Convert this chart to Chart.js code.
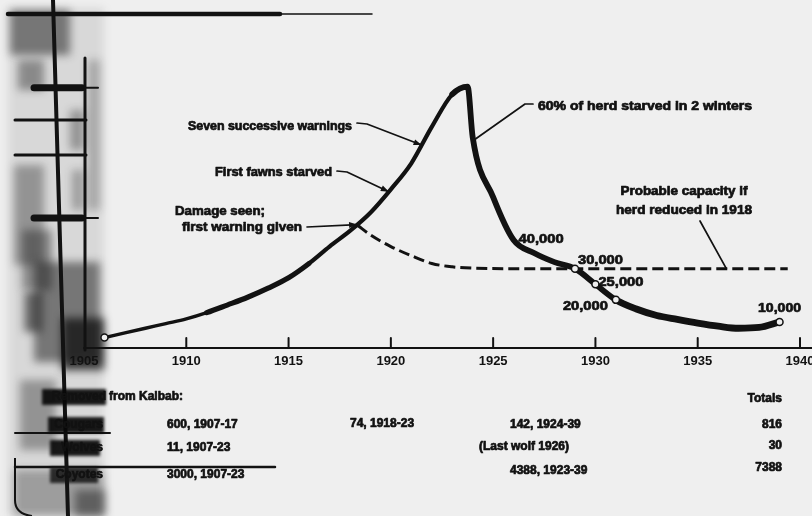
<!DOCTYPE html>
<html>
<head>
<meta charset="utf-8">
<script src="https://cdn.jsdelivr.net/npm/chart.js@4/dist/chart.umd.min.js"></script>
<style>
  html, body { margin: 0; padding: 0; background: #efefef; }
  #c { display: block; }
</style>
</head>
<body>
<canvas id="c" width="812" height="516"></canvas>
<script>
// ---------------- DATA ----------------
const years = [1906, 1907, 1908, 1909, 1910, 1911, 1912, 1913, 1914, 1915, 1916, 1917, 1918, 1919, 1920, 1921, 1922, 1923, 1923.75, 1924, 1925, 1926, 1927, 1928, 1929, 1930, 1931, 1932, 1933, 1934, 1935, 1936, 1937, 1938, 1939];
const population = [4000, 5800, 7600, 9400, 11200, 13600, 16500, 19500, 23000, 27000, 32500, 39000, 45000, 52000, 61000, 71000, 85000, 97500, 100500, 81000, 58000, 41500, 36500, 33000, 30500, 24500, 18500, 15000, 12500, 11000, 9600, 8400, 7600, 7900, 10000];

const capacityYears = [1918.4, 1919, 1920, 1921, 1922, 1923, 1924, 1926, 1939.4];
const capacityValues = [47000, 43500, 39000, 35500, 32500, 31200, 30700, 30500, 30500];

const markerYears = [1906, 1929, 1930, 1931, 1939];
const markerValues = [4000, 30500, 24500, 18500, 10000];
const markerLabels = ['', '30,000', '25,000', '20,000', '10,000'];
const calloutYear = 1926;
const calloutLabel = '40,000';

const xTickYears = [1905, 1910, 1915, 1920, 1925, 1930, 1935, 1940];
const yTickValues = [50000, 100000];

const removalTitle = ['Removed', 'from Kaibab:'];
const removalGroups = ['Cougars', 'Wolves', 'Coyotes'];
const removalEarly = ['600, 1907-17', '11, 1907-23', '3000, 1907-23'];
const removalMid = ['74, 1918-23', '', ''];
const removalLate = ['142, 1924-39', '(Last wolf 1926)', '4388, 1923-39'];
const removalTotals = ['816', '30', '7388'];
const totalsTitle = 'Totals';

const notes = {
  seven: 'Seven successive warnings',
  fawns: 'First fawns starved',
  damage: ['Damage seen;', 'first warning given'],
  starved: '60% of herd starved in 2 winters',
  capacity: ['Probable capacity if', 'herd reduced in 1918']
};

// ---------------- HELPERS ----------------
const FAM = '"Liberation Sans", Arial, sans-serif';
const INK = '#121212';
function txt(c, s, x, y, align, size, width) {
  if (!s) return;
  c.save();
  c.font = 'bold ' + size + 'px ' + FAM;
  c.fillStyle = INK;
  c.strokeStyle = INK;
  c.lineWidth = 0.7;
  c.lineJoin = 'round';
  c.textBaseline = 'middle';
  c.textAlign = align;
  const w = c.measureText(s).width;
  const sx = width ? width / w : 1;
  c.translate(x, y);
  c.scale(sx, 1);
  c.fillText(s, 0, 0);
  c.strokeText(s, 0, 0);
  c.restore();
}
function line(c, pts, w, col) {
  c.save();
  c.strokeStyle = col || INK;
  c.lineWidth = w;
  c.lineCap = 'round';
  c.lineJoin = 'round';
  c.beginPath();
  pts.forEach((p, i) => i ? c.lineTo(p[0], p[1]) : c.moveTo(p[0], p[1]));
  c.stroke();
  c.restore();
}
function leader(c, pts, arrow) {
  line(c, pts, 1.7);
  if (arrow) {
    const a = pts[pts.length - 2], b = pts[pts.length - 1];
    const ang = Math.atan2(b[1] - a[1], b[0] - a[0]);
    c.save();
    c.fillStyle = INK;
    c.translate(b[0], b[1]);
    c.rotate(ang);
    c.beginPath();
    c.moveTo(0, 0); c.lineTo(-8, -3); c.lineTo(-8, 3); c.closePath();
    c.fill();
    c.restore();
  }
}
function curveAt(yr) {
  for (let i = 0; i < years.length - 1; i++) {
    if (yr >= years[i] && yr <= years[i + 1]) {
      const t = (yr - years[i]) / (years[i + 1] - years[i]);
      return population[i] + t * (population[i + 1] - population[i]);
    }
  }
  return population[population.length - 1];
}

// ---------------- PLUGIN ----------------
const scanPlugin = {
  id: 'scan',
  beforeDraw(chart) {
    const c = chart.ctx;
    c.save();
    c.fillStyle = '#efefef';
    c.fillRect(0, 0, chart.width, chart.height);
    // scanned-page shading in the left margin
    const blobs = [
      [8, 8, 96, 508, 0.1], [10, 10, 60, 45, 0.5], [18, 60, 26, 30, 0.4],
      [14, 165, 30, 100, 0.35], [22, 230, 30, 60, 0.4], [34, 262, 66, 100, 0.5],
      [62, 318, 42, 52, 0.8], [14, 470, 90, 46, 0.3], [88, 60, 12, 150, 0.25],
      [20, 380, 36, 70, 0.35], [70, 110, 14, 40, 0.35], [24, 292, 18, 40, 0.55],
      [72, 170, 12, 40, 0.3], [75, 490, 30, 26, 0.45]
    ];
    c.filter = 'blur(4px)';
    blobs.forEach(b => { c.fillStyle = 'rgba(20,20,20,' + b[4] + ')'; c.fillRect(b[0], b[1], b[2], b[3]); });
    c.filter = 'none';
    // binding / ruling lines
    line(c, [[53, 0], [68, 516]], 4);
    line(c, [[8, 14], [280, 14]], 4.5);
    line(c, [[280, 14], [372, 14]], 1.5);
    line(c, [[15, 120], [86, 120]], 3);
    line(c, [[15, 155], [86, 155]], 3);
    line(c, [[15, 433], [110, 433]], 2);
    line(c, [[15, 467], [275, 467]], 2.5);
    c.save();
    c.strokeStyle = INK; c.lineWidth = 2;
    c.beginPath(); c.moveTo(15, 458); c.lineTo(15, 500); c.quadraticCurveTo(15, 514, 32, 516); c.stroke();
    c.restore();
    c.restore();
  },
  afterDraw(chart) {
    const c = chart.ctx;
    const xs = chart.scales.x, ys = chart.scales.y;
    const X = v => xs.getPixelForValue(v), Y = v => ys.getPixelForValue(v);
    const base = chart.chartArea.bottom, left = chart.chartArea.left;

    // axes
    line(c, [[left, base], [chart.width, base]], 2);
    line(c, [[left + 1, 58], [left + 1, base + 2]], 3);
    xTickYears.forEach(v => { if (v > xs.min) line(c, [[X(v), base], [X(v), base - 10]], 2); });
    yTickValues.forEach(v => {
      line(c, [[left - 50, Y(v)], [left - 2, Y(v)]], 7);
      line(c, [[left - 2, Y(v)], [left + 14, Y(v)]], 2);
    });

    // annotations
    const pt = yr => [X(yr), Y(curveAt(yr))];
    txt(c, notes.seven, 352, 127, 'right', 12, 164);
    leader(c, [[357, 123], [367, 124], pt(1921.5)], true);
    txt(c, notes.fawns, 332, 173, 'right', 12, 117);
    leader(c, [[337, 171], [347, 172], pt(1919.9)], true);
    txt(c, notes.damage[0], 175, 212, 'left', 12, 90);
    txt(c, notes.damage[1], 182, 228, 'left', 12, 120);
    leader(c, [[307, 227], pt(1918.35)], true);
    txt(c, notes.starved, 538, 107, 'left', 12, 214);
    leader(c, [[533, 104], [525, 104], pt(1924.05)], false);
    txt(c, notes.capacity[0], 684, 192, 'center', 12, 127);
    txt(c, notes.capacity[1], 684, 211, 'center', 12, 136);
    leader(c, [[700, 221], [X(1936.4), Y(capacityValues[capacityValues.length - 1])]], false);

    // value labels
    const cx = X(calloutYear), cy = Y(curveAt(calloutYear));
    txt(c, calloutLabel, cx + 5, cy - 1, 'left', 13, 45);
    const offs = [null, [3, -8, 'left'], [3, -2, 'left'], [-8, 7, 'right'], [0, -14, 'center']];
    markerYears.forEach((yr, i) => {
      if (!markerLabels[i]) return;
      const o = offs[i];
      txt(c, markerLabels[i], X(yr) + o[0], Y(markerValues[i]) + o[1], o[2], 13, i === 4 ? 43 : 45);
    });

    // removal table
    c.save();
    c.filter = 'blur(1.5px)';
    c.fillStyle = 'rgba(8,8,8,0.92)';
    c.fillRect(42, 389, 64, 16);
    c.fillRect(48, 417, 56, 16);
    c.fillRect(50, 440, 50, 16);
    c.fillStyle = 'rgba(20,20,20,0.85)';
    c.fillRect(50, 467, 48, 16);
    c.restore();
    txt(c, removalTitle[0], 106, 397, 'right', 12);
    txt(c, removalTitle[1], 109, 397, 'left', 12);
    txt(c, totalsTitle, 782, 399, 'right', 12);
    const rowL = [425, 448, 475], rowM = [424, 447, 472], rowR = [425, 447, 471], rowT = [425, 446, 468];
    const lateX = [510, 479, 510];
    removalGroups.forEach((g, i) => {
      txt(c, g, 103, rowL[i], 'right', 12);
      txt(c, removalEarly[i], 167, rowL[i], 'left', 12);
      txt(c, removalMid[i], 350, rowM[i], 'left', 12);
      txt(c, removalLate[i], lateX[i], rowR[i], 'left', 12);
      txt(c, removalTotals[i], 782, rowT[i], 'right', 12);
    });
  }
};

// ---------------- CHART ----------------
const toXY = (xa, ya) => xa.map((x, i) => ({ x: x, y: ya[i] }));
const widthFor = yr => {
  if (yr < 1911) return 3.4;
  if (yr < 1916) return 5.2;
  if (yr < 1923) return 4.2;
  if (yr < 1931) return 5.8;
  return 6.8;
};

new Chart(document.getElementById('c'), {
  type: 'scatter',
  data: {
    datasets: [
      {
        label: 'Marked counts',
        data: toXY(markerYears, markerValues),
        showLine: false,
        pointRadius: 3.5,
        pointBackgroundColor: '#efefef',
        pointBorderColor: INK,
        pointBorderWidth: 1.5,
        order: 0
      },
      {
        label: 'Kaibab deer herd',
        data: toXY(years, population),
        showLine: true,
        borderColor: INK,
        borderWidth: 4.5,
        borderCapStyle: 'round',
        borderJoinStyle: 'round',
        cubicInterpolationMode: 'monotone',
        pointRadius: 0,
        segment: { borderWidth: ctx => widthFor(ctx.p0.parsed.x) },
        order: 1
      },
      {
        label: 'Probable capacity if herd reduced in 1918',
        data: toXY(capacityYears, capacityValues),
        showLine: true,
        borderColor: INK,
        borderWidth: 3,
        borderDash: [11, 5],
        cubicInterpolationMode: 'monotone',
        pointRadius: 0,
        order: 2
      }
    ]
  },
  plugins: [scanPlugin],
  options: {
    responsive: false,
    animation: false,
    devicePixelRatio: 1,
    layout: { padding: { left: 84, right: 12, top: 15, bottom: 0 } },
    plugins: { legend: { display: false }, tooltip: { enabled: false } },
    scales: {
      x: {
        type: 'linear',
        min: 1905,
        max: 1940,
        afterBuildTicks: s => { s.ticks = xTickYears.map(v => ({ value: v })); },
        afterFit: s => { s.height = 168; s.paddingLeft = 0; s.paddingRight = 0; },
        grid: { display: false, drawTicks: false },
        border: { display: false },
        ticks: {
          callback: v => String(v),
          color: INK,
          padding: 6,
          maxRotation: 0,
          autoSkip: false,
          font: { family: FAM, weight: 'bold', size: 13 }
        }
      },
      y: {
        display: false,
        min: 0,
        max: 128000
      }
    }
  }
});
</script>
</body>
</html>
